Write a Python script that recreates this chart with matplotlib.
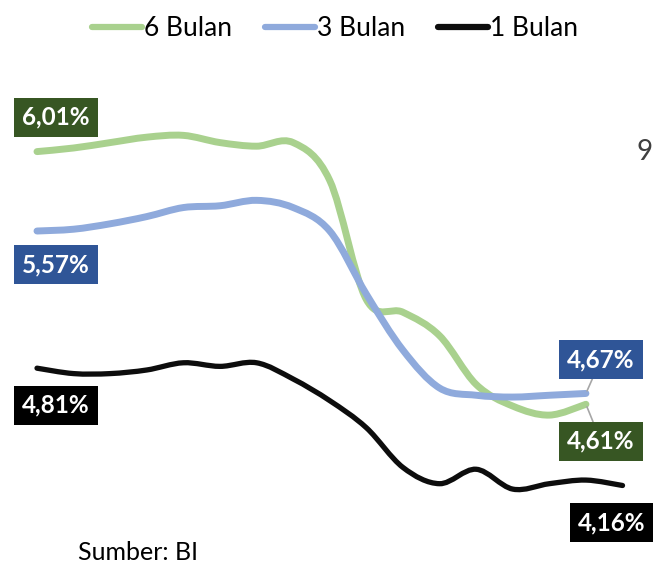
import matplotlib
matplotlib.use("Agg")
import matplotlib.pyplot as plt
from matplotlib.path import Path
from matplotlib.patches import PathPatch
from matplotlib.lines import Line2D
import numpy as np

plt.rcParams['font.family'] = ['Lato', 'DejaVu Sans']

# data (%), monthly points
bulan6 = [6.01, 6.03, 6.06, 6.09, 6.10, 6.06, 6.04, 6.06, 5.85, 5.19, 5.12, 4.99, 4.72, 4.60, 4.55, 4.61]
bulan3 = [5.57, 5.58, 5.61, 5.65, 5.70, 5.71, 5.74, 5.70, 5.57, 5.22, 4.91, 4.70, 4.66, 4.65, 4.66, 4.67]
bulan1 = [4.81, 4.78, 4.78, 4.80, 4.84, 4.82, 4.84, 4.75, 4.63, 4.48, 4.26, 4.17, 4.25, 4.14, 4.17, 4.19, 4.16]

series_names = ['6 Bulan', '3 Bulan', '1 Bulan']
series_colors = ['#A9D18E', '#8FAADC', '#0D0D0D']
label_colors = ['#375623', '#2F5597', '#000000']


def smooth_path(x, y):
    # excel style smoothed line: cubic bezier with catmull-rom control points
    x = np.asarray(x, float)
    y = np.asarray(y, float)
    n = len(x)
    verts = [(x[0], y[0])]
    codes = [Path.MOVETO]
    for i in range(n - 1):
        i0 = max(i - 1, 0)
        i3 = min(i + 2, n - 1)
        c1 = (x[i] + (x[i + 1] - x[i0]) / 6, y[i] + (y[i + 1] - y[i0]) / 6)
        c2 = (x[i + 1] - (x[i3] - x[i]) / 6, y[i + 1] - (y[i3] - y[i]) / 6)
        verts += [c1, c2, (x[i + 1], y[i + 1])]
        codes += [Path.CURVE4] * 3
    return Path(verts, codes)


fig = plt.figure(figsize=(6.54, 5.77), dpi=100)
ax = fig.add_axes([0, 0, 1, 1])
ax.set_xlim(-1.011, 16.86)
ax.set_ylim(3.653, 6.85)
ax.axis('off')

widths = [5.0, 5.0, 3.8]
for vals, col, lw in zip([bulan6, bulan3, bulan1], series_colors, widths):
    xs = np.arange(len(vals))
    ax.add_patch(PathPatch(smooth_path(xs, vals), fill=False, edgecolor=col,
                           lw=lw, capstyle='round', joinstyle='round'))


def box_label(x, y, txt, col, dx, dy, leader=False):
    ap = None
    if leader:
        ap = dict(arrowstyle='-', color='#A6A6A6', lw=1.2, shrinkA=0, shrinkB=2)
    ax.annotate(txt, xy=(x, y), xytext=(dx, dy), textcoords='offset points',
                ha='center', va='center', fontsize=17.5, fontweight='bold',
                color='white', arrowprops=ap,
                bbox=dict(boxstyle='square,pad=0.33', fc=col, ec='none'))


def fmt(v):
    return ('%.2f' % v).replace('.', ',') + '%'


# start labels
box_label(0, bulan6[0], fmt(bulan6[0]), label_colors[0], 13.7, 24.8)
box_label(0, bulan3[0], fmt(bulan3[0]), label_colors[1], 13.7, -24.1)
box_label(0, bulan1[0], fmt(bulan1[0]), label_colors[2], 13.7, -26.6)
# end labels
box_label(len(bulan3) - 1, bulan3[-1], fmt(bulan3[-1]), label_colors[1], 10.8, 24.5, leader=True)
box_label(len(bulan6) - 1, bulan6[-1], fmt(bulan6[-1]), label_colors[0], 10.8, -26.6, leader=True)
box_label(len(bulan1) - 1, bulan1[-1], fmt(bulan1[-1]), label_colors[2], -7.9, -26.6)

handles = [Line2D([0], [0], color=c, lw=4.5, solid_capstyle='round') for c in series_colors]
fig.legend(handles, series_names, loc='center', bbox_to_anchor=(335 / 654, 1 - 29 / 577),
           ncol=3, frameon=False, fontsize=19, handlelength=1.9, handletextpad=0.08,
           columnspacing=1.25)

fig.text(78 / 654, 1 - 553 / 577, 'Sumber: BI', fontsize=18, ha='left', va='center')
# stray character at the right edge (cut off in the source)
fig.text(637 / 654, 1 - 152 / 577, '9', fontsize=20, color='#404040', ha='left', va='center')

fig.savefig('out.png', dpi=100)
